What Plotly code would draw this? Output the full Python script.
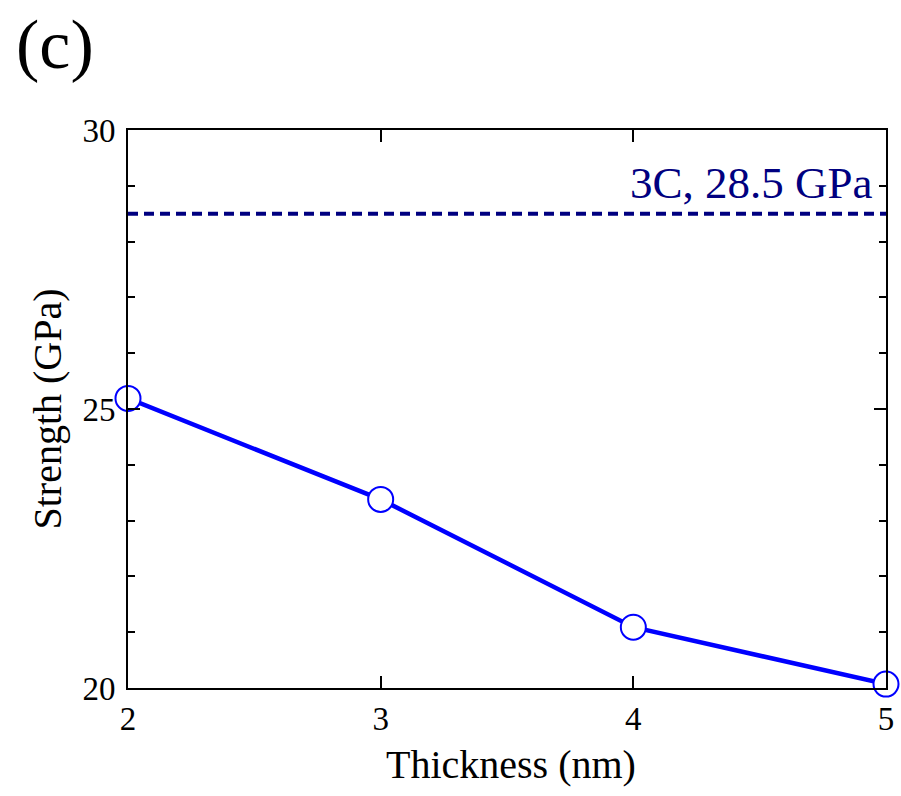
import plotly.graph_objects as go

thickness = [2, 3, 4, 5]
strength = [25.19, 23.38, 21.09, 20.07]
ref_value = 28.5
ref_label = "3C, 28.5 GPa"
x_ticks = [2, 3, 4, 5]
y_ticks = [20, 25, 30]
x_title = "Thickness (nm)"
y_title = "Strength (GPa)"
panel_label = "(c)"

FONT = "Liberation Serif"
L, R, T, B = 128, 7, 130, 108
W, H = 901, 796
PW, PH = W - L - R, H - T - B

fig = go.Figure()
fig.add_trace(go.Scatter(
    x=[thickness[0], thickness[-1]], y=[ref_value, ref_value],
    mode="lines", line=dict(color="#000080", width=4, dash="10px,6px"),
    hoverinfo="skip", showlegend=False, cliponaxis=False))
fig.add_trace(go.Scatter(
    x=thickness, y=strength, mode="lines+markers",
    line=dict(color="#0000FF", width=4.5),
    marker=dict(symbol="circle", size=25, color="white",
                line=dict(color="#0000FF", width=2)),
    showlegend=False, cliponaxis=False))

fig.add_annotation(x=(883 - L) / PW, xref="paper", y=ref_value, yref="y",
                   text=ref_label, showarrow=False, xanchor="right",
                   yanchor="middle", yshift=31,
                   font=dict(family=FONT, size=45, color="#000080"))
fig.add_annotation(x=(13 - L) / PW, xref="paper", y=1 + (T - 44) / PH, yref="paper",
                   text=panel_label, showarrow=False, xanchor="left", yanchor="middle",
                   font=dict(family=FONT, size=70, color="black"))
fig.add_annotation(x=(515 - L) / PW, xref="paper", y=-(764 - (H - B)) / PH, yref="paper",
                   text=x_title, showarrow=False, xanchor="center", yanchor="middle",
                   font=dict(family=FONT, size=40, color="black"))

fig.update_layout(
    width=W, height=H,
    margin=dict(l=L, r=R, t=T, b=B),
    paper_bgcolor="white", plot_bgcolor="white",
    font=dict(family=FONT, color="black"),
    xaxis=dict(range=[2, 5], tickvals=x_ticks, ticks="inside", ticklen=12,
               tickwidth=2, tickcolor="black", showline=True, linecolor="black",
               linewidth=2, mirror="allticks", showgrid=False, zeroline=False,
               tickfont=dict(family=FONT, size=33), ticklabelstandoff=0),
    yaxis=dict(range=[20, 30], tickvals=y_ticks, ticks="inside", ticklen=12,
               tickwidth=2, tickcolor="black", showline=True, linecolor="black",
               linewidth=2, mirror="allticks", showgrid=False, zeroline=False,
               tickfont=dict(family=FONT, size=33), ticklabelstandoff=4,
               minor=dict(dtick=1, ticks="inside", ticklen=7, tickwidth=2,
                          tickcolor="black", showgrid=False),
               title=dict(text=y_title, font=dict(family=FONT, size=40),
                          standoff=8)),
)

fig.write_html("out.html", config={"responsive": False})
